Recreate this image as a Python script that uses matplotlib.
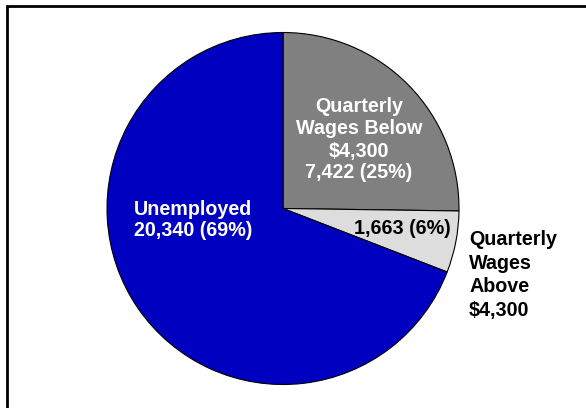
import matplotlib.pyplot as plt
from matplotlib.patches import Rectangle

# Slice data (clockwise from top)
categories = ['Quarterly\nWages Below\n$4,300', 'Quarterly\nWages\nAbove\n$4,300', 'Unemployed']
counts = [7422, 1663, 20340]
colors = ['#808080', '#DDDDDD', '#0000C0']

total = sum(counts)
pcts = [round(c / total * 100) for c in counts]

plt.rcParams['font.family'] = ['Liberation Sans', 'DejaVu Sans']
plt.rcParams['font.weight'] = 'bold'

fig = plt.figure(figsize=(5.86, 4.08), dpi=100)
ax = fig.add_axes([0, 0, 1, 1])

ax.pie(counts, colors=colors, startangle=90, counterclock=False,
       center=(283, 199.5), radius=176, frame=True,
       wedgeprops=dict(edgecolor='black', linewidth=0.8))
ax.set_xlim(0, 586)
ax.set_ylim(0, 408)
ax.set_aspect('auto')
ax.axis('off')

# Outer frame (runs off the right/bottom edge like the original)
ax.add_patch(Rectangle((7, -20), 620, 422, fill=False, edgecolor='black',
                       linewidth=2, clip_on=True))

fs = 14.2
ax.text(359, 268, f"{categories[0]}\n{counts[0]:,} ({pcts[0]}%)", color='white',
        ha='center', va='center', fontsize=fs, fontweight='bold', linespacing=1.2)
ax.text(402, 179, f"{counts[1]:,} ({pcts[1]}%)", color='black',
        ha='center', va='center', fontsize=fs, fontweight='bold')
ax.text(469, 133, categories[1], color='black',
        ha='left', va='center', fontsize=fs, fontweight='bold', linespacing=1.3)
ax.text(193, 188, f"{categories[2]}\n{counts[2]:,} ({pcts[2]}%)", color='white',
        ha='center', va='center', fontsize=fs, fontweight='bold', linespacing=1.1)

fig.savefig('out.png', dpi=100)
